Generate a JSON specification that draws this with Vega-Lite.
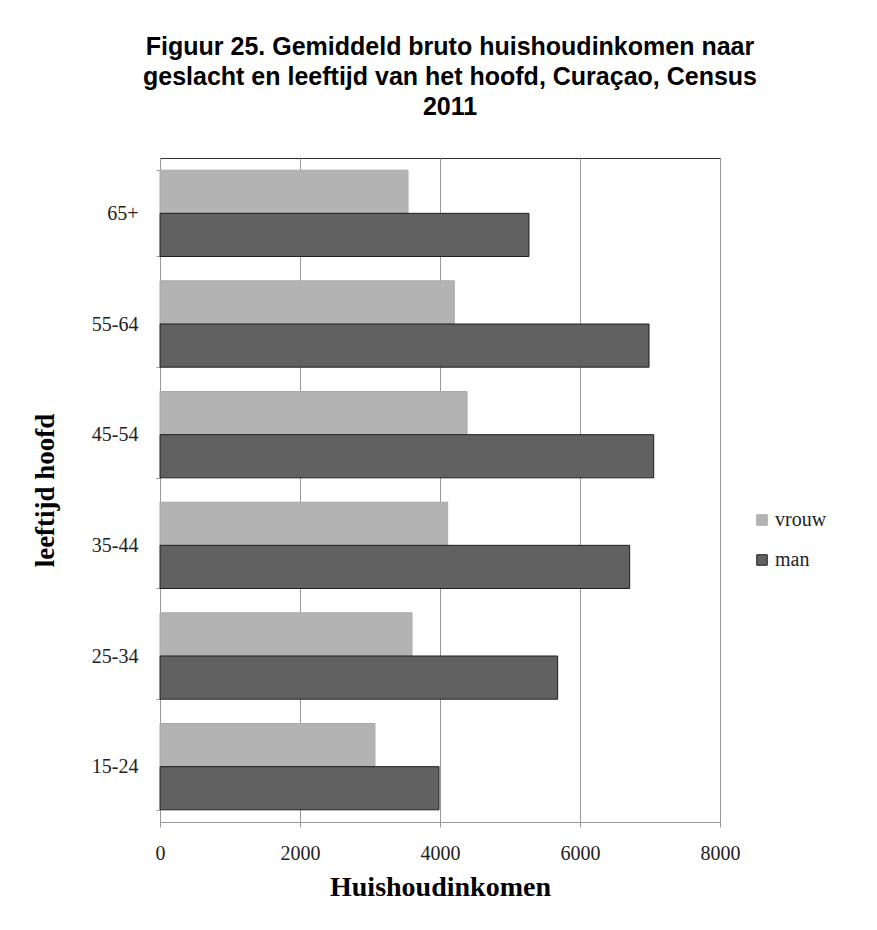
{
  "$schema": "https://vega.github.io/schema/vega-lite/v6.json",
  "width": 560,
  "height": 664,
  "autosize": {"type": "none"},
  "padding": {"left": 160, "top": 158, "right": 157, "bottom": 108},
  "background": "white",
  "title": {
    "text": ["Figuur 25. Gemiddeld bruto huishoudinkomen naar", "geslacht en leeftijd van het hoofd, Curaçao, Census", "2011"],
    "font": "Liberation Sans",
    "fontSize": 25,
    "fontWeight": "bold",
    "color": "#000000",
    "lineHeight": 30,
    "anchor": "middle",
    "frame": "group",
    "offset": 28,
    "dx": 10
  },
  "data": {
    "values": [
      {"age": "65+", "sex": "vrouw", "income": 3543},
      {"age": "65+", "sex": "man", "income": 5271},
      {"age": "55-64", "sex": "vrouw", "income": 4204},
      {"age": "55-64", "sex": "man", "income": 6986},
      {"age": "45-54", "sex": "vrouw", "income": 4386},
      {"age": "45-54", "sex": "man", "income": 7053},
      {"age": "35-44", "sex": "vrouw", "income": 4110},
      {"age": "35-44", "sex": "man", "income": 6710},
      {"age": "25-34", "sex": "vrouw", "income": 3600},
      {"age": "25-34", "sex": "man", "income": 5681},
      {"age": "15-24", "sex": "vrouw", "income": 3071},
      {"age": "15-24", "sex": "man", "income": 3986}
    ]
  },
  "mark": {"type": "bar", "strokeWidth": 1},
  "encoding": {
    "y": {
      "field": "age",
      "type": "nominal",
      "sort": ["65+", "55-64", "45-54", "35-44", "25-34", "15-24"],
      "scale": {"paddingInner": 0.22, "paddingOuter": 0.11},
      "axis": {
        "title": "leeftijd  hoofd",
        "titleFont": "Liberation Serif",
        "titleFontSize": 27,
        "titleFontWeight": "bold",
        "titleColor": "#000000",
        "titlePadding": 32,
        "labelFont": "Liberation Serif",
        "labelFontSize": 20,
        "labelColor": "#222222",
        "labelPadding": 18,
        "tickBand": "extent",
        "tickSize": 4,
        "tickColor": "#999999",
        "domainColor": "#999999"
      }
    },
    "yOffset": {"field": "sex", "type": "nominal", "sort": ["vrouw", "man"], "scale": {"paddingInner": 0, "paddingOuter": 0}},
    "x": {
      "field": "income",
      "type": "quantitative",
      "scale": {"domain": [0, 8000], "nice": false},
      "axis": {
        "values": [0, 2000, 4000, 6000, 8000],
        "format": "d",
        "title": "Huishoudinkomen",
        "titleFont": "Liberation Serif",
        "titleFontSize": 28,
        "titleFontWeight": "bold",
        "titleColor": "#000000",
        "titlePadding": 10,
        "labelFont": "Liberation Serif",
        "labelFontSize": 20,
        "labelColor": "#222222",
        "labelPadding": 16,
        "tickSize": 5,
        "tickColor": "#999999",
        "domainColor": "#999999",
        "gridColor": "#999999",
        "labelFlush": false
      }
    },
    "color": {
      "field": "sex",
      "type": "nominal",
      "sort": ["vrouw", "man"],
      "scale": {"domain": ["vrouw", "man"], "range": ["#b3b3b3", "#616161"]},
      "legend": {
        "title": null,
        "orient": "none",
        "legendX": 592,
        "legendY": 352,
        "symbolType": "square",
        "symbolSize": 110,
        "labelFont": "Liberation Serif",
        "labelFontSize": 20,
        "labelColor": "#222222",
        "labelOffset": 3,
        "rowPadding": 20,
        "symbolStrokeWidth": 1
      }
    },
    "stroke": {
      "field": "sex",
      "type": "nominal",
      "sort": ["vrouw", "man"],
      "scale": {"domain": ["vrouw", "man"], "range": ["#a8a8a8", "#1e1e1e"]}
    }
  },
  "config": {
    "view": {"stroke": "#333333", "strokeWidth": 1},
    "axisY": {"grid": false}
  }
}
